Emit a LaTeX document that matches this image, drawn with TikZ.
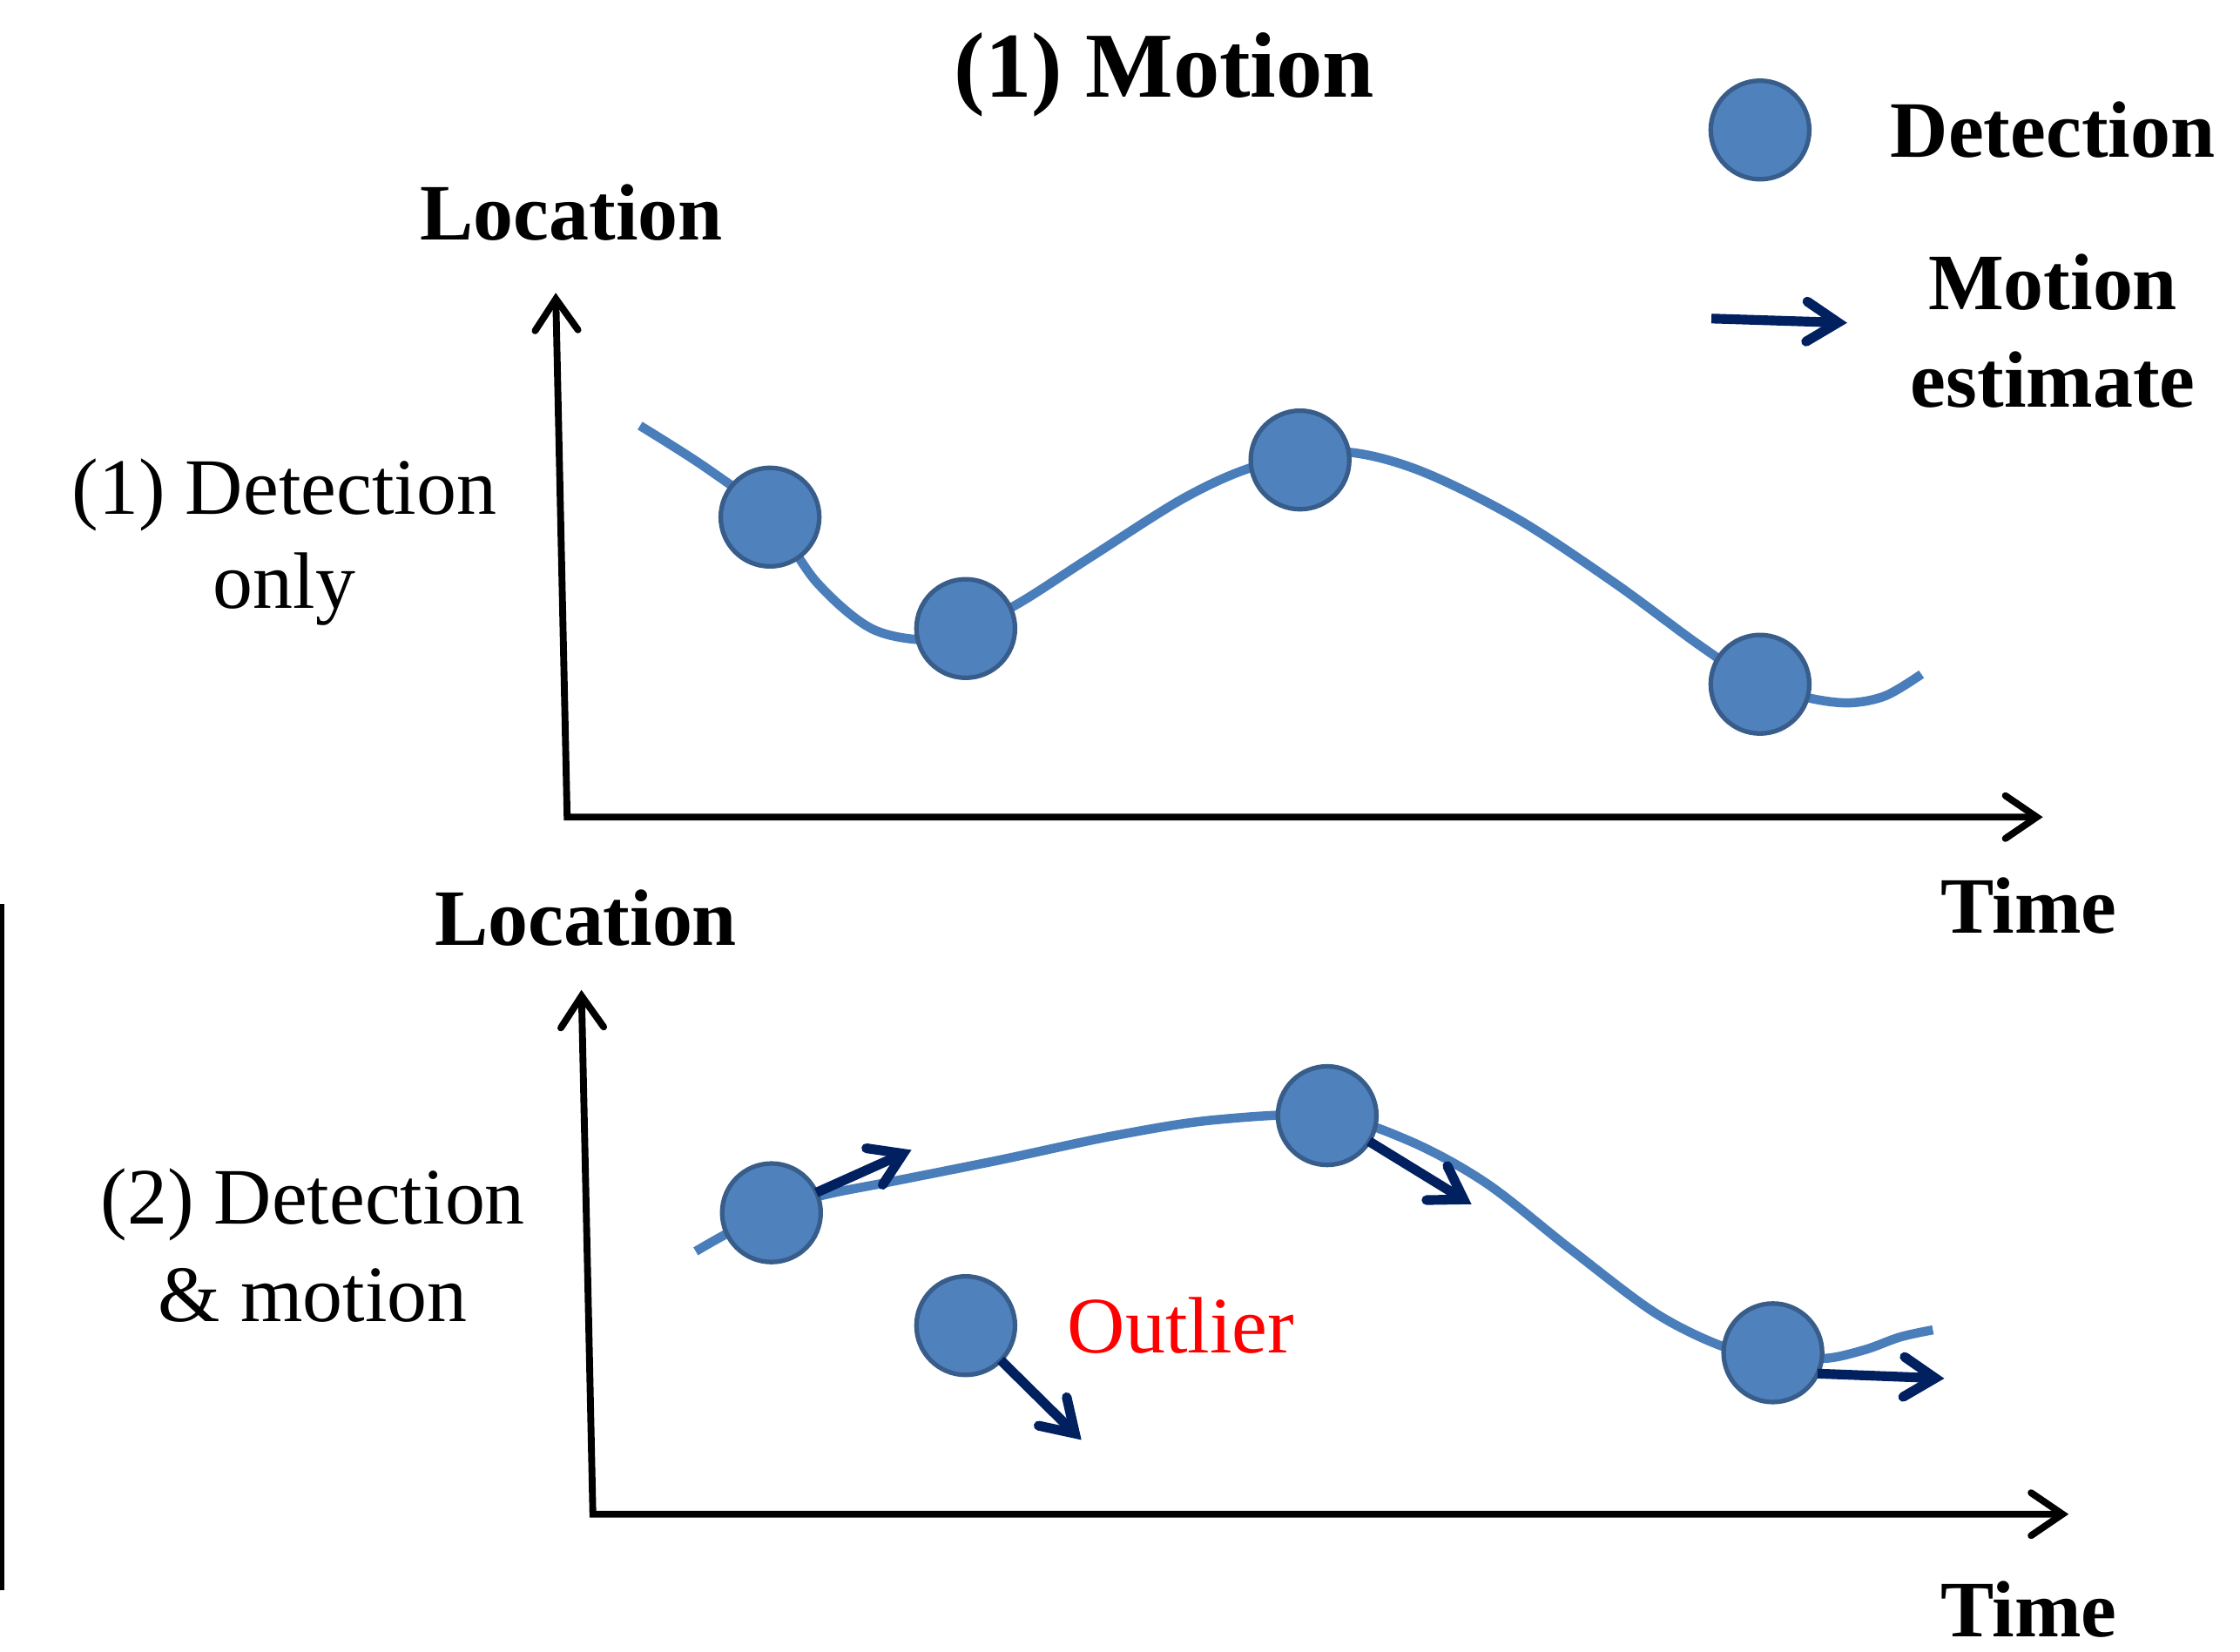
\documentclass[tikz,border=0pt]{standalone}
\usepackage{fontspec}
\setmainfont{Liberation Serif}
\usetikzlibrary{arrows.meta}
\definecolor{detfill}{HTML}{4F81BD}
\definecolor{detline}{HTML}{385D8A}
\definecolor{curvec}{HTML}{4A7EBB}
\definecolor{navy}{HTML}{002060}
\begin{document}
\begin{tikzpicture}[x=0.5pt,y=-0.5pt,
  txt/.style={inner sep=0pt, font=\fontsize{28}{33}\selectfont},
  boldtxt/.style={inner sep=0pt, font=\fontsize{28}{33}\selectfont\bfseries},
  det/.style={circle, fill=detfill, draw=detline, line width=1.6pt, minimum size=34.5pt, inner sep=0pt, outer sep=0pt},
  axis/.style={line width=2.4pt, line join=miter,
    {Straight Barb[length=11pt,width=15pt,line cap=round,line join=miter]}-{Straight Barb[length=11pt,width=15pt,line cap=round,line join=miter]}},
  motarrow/.style={draw=navy, line width=3.4pt, -{Straight Barb[length=11pt,width=14pt,line cap=round,line join=miter]}},
  track/.style={draw=curvec, line width=3.2pt, line cap=butt}
]
\useasboundingbox (0,0) rectangle (1568,1156);

% title
\node[inner sep=0pt, font=\fontsize{32.5}{38}\selectfont\bfseries, anchor=base] (title) at (815,68) {(1) Motion};

% legend
\node[det] (legdet) at (1232,91) {};
\node[boldtxt, anchor=base west] (legdettxt) at (1323,110) {Detection};
\coordinate (la1) at (1198,223);
\coordinate (la2) at (1293,226);
\draw[motarrow] (la1) -- (la2);
\node[boldtxt, anchor=base] (legmot) at (1437,217) {\begin{tabular}[t]{@{}c@{}}Motion\\[1pt] estimate\end{tabular}};

% left separator line
\coordinate (vl1) at (1.5,633);
\coordinate (vl2) at (1.5,1113);
\draw[line width=1.8pt] (vl1) -- (vl2);

% ---------- top plot ----------
\node[boldtxt, anchor=base] (loc1) at (400,168) {Location};
\node[txt, anchor=base] (lab1) at (199,360) {\begin{tabular}[t]{@{}c@{}}(1) Detection\\ only\end{tabular}};
\coordinate (ya1) at (389,205);
\coordinate (o1) at (397,572);
\coordinate (xa1) at (1430,572);
\draw[axis] (ya1) -- (o1) -- (xa1);
\node[boldtxt, anchor=base] (time1) at (1420,653) {Time};

\draw[track] plot[smooth, tension=0.55] coordinates {(448,298) (495,328) (539,362) (572,408) (610,440) (650,448) (676,440) (712,423) (765,389) (830,348) (880,326) (935,316) (990,328) (1060,362) (1130,408) (1190,452) (1232,479) (1268,489) (1295,492) (1320,487) (1345,472)};

\node[det] (a1) at (539,362) {};
\node[det] (a2) at (676,440) {};
\node[det] (a3) at (910,322) {};
\node[det] (a4) at (1232,479) {};

% ---------- bottom plot ----------
\node[boldtxt, anchor=base] (loc2) at (410,662) {Location};
\node[txt, anchor=base] (lab2) at (219,857) {\begin{tabular}[t]{@{}c@{}}(2) Detection\\[1pt] \& motion\end{tabular}};
\coordinate (ya2) at (407,693);
\coordinate (o2) at (415,1060);
\coordinate (xa2) at (1448,1060);
\draw[axis] (ya2) -- (o2) -- (xa2);
\node[boldtxt, anchor=base] (time2) at (1420,1146) {Time};

\draw[track] plot[smooth, tension=0.55] coordinates {(487,876) (510,863) (540,849) (575,837) (625,827) (700,812) (780,795) (850,784) (929,781) (985,798) (1040,828) (1100,875) (1160,920) (1210,944) (1241,947) (1276,951) (1305,945) (1330,936) (1353,931)};

\node[det] (b1) at (540,849) {};
\node[det] (b2) at (929,781) {};
\node[det] (b3) at (1241,947) {};
\node[det] (b4) at (676,928) {};
\node[inner sep=0pt, font=\fontsize{28}{33}\selectfont, text=red, anchor=base west] (outl) at (747,947) {Outlier};

\coordinate (t1) at (638,805);
\coordinate (t2) at (1030,843);
\coordinate (t3) at (1361,965);
\coordinate (t4) at (757,1008);
\draw[motarrow] (b1) -- (t1);
\draw[motarrow] (b2) -- (t2);
\draw[motarrow] (b3.-25) -- (t3);
\draw[motarrow] (b4) -- (t4);
\end{tikzpicture}
\end{document}
